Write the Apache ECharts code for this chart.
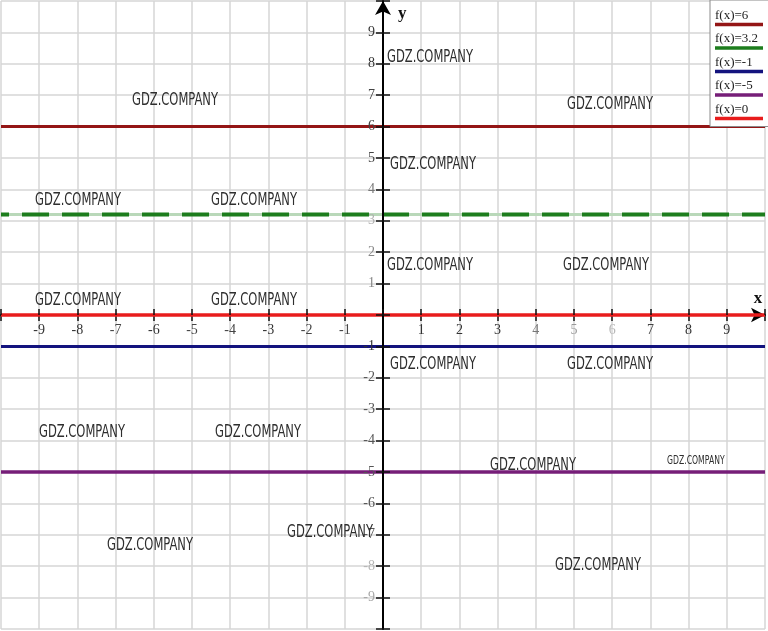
<!DOCTYPE html>
<html>
<head>
<meta charset="utf-8">
<script src="https://cdn.jsdelivr.net/npm/echarts@6/dist/echarts.min.js"></script>
<style>
html,body{margin:0;padding:0;background:#fff;}
#chart{width:768px;height:631px;}
</style>
</head>
<body>
<div id="chart"></div>
<script>
// ---- data ----
const xRange = [-10, 10];
const yRange = [-10, 10];
const seriesNames = ['f(x)=6', 'f(x)=3.2', 'f(x)=-1', 'f(x)=-5', 'f(x)=0'];
const seriesValues = [6, 3.2, -1, -5, 0];
const seriesColors = ['#941616', '#1d7d1d', '#13137e', '#761e78', '#e81c1c'];
const seriesDashed = [false, true, false, false, false];
const seriesWidths = [3, 4, 3, 3.5, 3.5];
const watermarkText = 'GDZ.COMPANY';
const watermarks = [
  [387, 57, 1], [132, 100, 1], [567, 104, 1], [390, 164, 1], [35, 200, 1],
  [211, 200, 1], [387, 265, 1], [563, 265, 1], [35, 300, 1], [211, 300, 1],
  [390, 364, 1], [567, 364, 1], [39, 432, 1], [215, 432, 1], [490, 465, 1],
  [667, 461, 0.67], [107, 545, 1], [287, 532, 1], [555, 565, 1]
];
const xLabelColors = {'-9': '#333', '-8': '#333', '-7': '#444', '-6': '#333', '-5': '#444', '-4': '#444', '-3': '#333', '-2': '#444', '-1': '#444',
  '1': '#333', '2': '#333', '3': '#333', '4': '#777', '5': '#999', '6': '#b8b8b8', '7': '#444', '8': '#333', '9': '#333'};
const yLabelColors = {'9': '#333', '8': '#333', '7': '#444', '6': '#444', '5': '#444', '4': '#777', '3': '#b0b0b0', '2': '#888', '1': '#888',
  '-1': '#333', '-2': '#555', '-3': '#555', '-4': '#555', '-5': '#555', '-6': '#555', '-7': '#555', '-8': '#b5b5b5', '-9': '#a8a8a8'};

const W = 768, H = 631;
const gridBox = {left: 1, right: 3, top: 1, bottom: 2};
const gw = W - gridBox.left - gridBox.right;
const gh = H - gridBox.top - gridBox.bottom;
const zeroFromLeft = gw * (0 - xRange[0]) / (xRange[1] - xRange[0]);
const zeroFromRight = gw - zeroFromLeft;
const zeroFromTop = gh * (yRange[1] - 0) / (yRange[1] - yRange[0]);
const zeroFromBottom = gh - zeroFromTop;

const chart = echarts.init(document.getElementById('chart'), null, {renderer: 'canvas'});

const labelFont = 'Liberation Serif, serif';
const wmFont = 'DejaVu Sans, sans-serif';
const wmSize = 18.5;
const wmTargetWidth = 86;

const mctx = document.createElement('canvas').getContext('2d');
mctx.font = wmSize + 'px ' + wmFont;
const wmScale = wmTargetWidth / mctx.measureText(watermarkText).width;

const series = [];
// pale underlay of the dashed line (visible in the dash gaps)
seriesNames.forEach((n, i) => {
  if (seriesDashed[i]) {
    series.push({
      name: n + ' ',
      type: 'line',
      data: [[xRange[0], seriesValues[i]], [xRange[1], seriesValues[i]]],
      symbol: 'none', silent: true, z: 1,
      lineStyle: {color: '#b9d8b9', width: 3}
    });
  }
});
seriesNames.forEach((n, i) => {
  series.push({
    name: n,
    type: 'line',
    data: [[xRange[0], seriesValues[i]], [xRange[1], seriesValues[i]]],
    symbol: 'none',
    silent: true,
    z: 2,
    lineStyle: {
      color: seriesColors[i],
      width: seriesWidths[i],
      type: seriesDashed[i] ? [27, 13] : 'solid',
      dashOffset: seriesDashed[i] ? 19 : 0,
      cap: 'butt'
    },
    itemStyle: {color: seriesColors[i]}
  });
});

const rich = {t: {fontFamily: labelFont, fontSize: 13, color: '#222', lineHeight: 12}};
seriesColors.forEach((c, i) => {
  rich['l' + i] = {width: 48, height: 3.5, backgroundColor: c, lineHeight: 6};
});

const graphics = watermarks.map(w => ({
  type: 'text',
  x: w[0],
  y: w[1],
  scaleX: wmScale * w[2],
  scaleY: w[2],
  z: 50,
  silent: true,
  style: {
    text: watermarkText,
    fontFamily: wmFont,
    fontSize: wmSize,
    fill: '#2e2e2e',
    align: 'left',
    verticalAlign: 'middle'
  }
}));

const hiddenLine = {color: '#000', width: 0, opacity: 0};
const tickStyle = {color: '#111', width: 1.5};
const hideEnds = function (v) { return (v === 0 || Math.abs(v) >= 10) ? '' : String(v); };
const gridLine = {show: true, lineStyle: {color: '#d6d6d6', width: 1.5}};

const option = {
  animation: false,
  backgroundColor: '#fff',
  grid: {left: gridBox.left, right: gridBox.right, top: gridBox.top, bottom: gridBox.bottom,
    containLabel: false, outerBoundsMode: 'none'},
  legend: {
    data: seriesNames,
    orient: 'vertical',
    left: 710,
    top: 0,
    icon: 'rect',
    itemWidth: 0,
    itemHeight: 0,
    itemGap: 2,
    padding: [9, 20, 2, 0],
    backgroundColor: '#fff',
    borderColor: '#8a8a8a',
    borderWidth: 1,
    selectedMode: false,
    z: 20,
    formatter: function (name) {
      const i = seriesNames.indexOf(name);
      return '{t|' + name + '}\n{l' + i + '| }';
    },
    textStyle: {rich: rich}
  },
  xAxis: [{
    type: 'value', min: xRange[0], max: xRange[1], interval: 1, position: 'bottom', z: 0,
    axisLine: {show: false}, axisTick: {show: false}, axisLabel: {show: false},
    splitLine: gridLine
  }, {
    type: 'value', min: xRange[0], max: xRange[1], interval: 1, position: 'bottom', z: 1,
    offset: -zeroFromBottom,
    axisLine: {show: true, onZero: false, symbol: ['none', 'arrow'], symbolSize: [11, 14],
      lineStyle: {color: '#000', width: 2}},
    axisTick: {show: true, inside: false, length: 6, lineStyle: tickStyle},
    axisLabel: {
      show: true, margin: 8, fontFamily: labelFont, fontSize: 14,
      color: function (v) { return xLabelColors[String(v)] || '#333'; },
      formatter: hideEnds
    },
    splitLine: {show: false},
    name: 'x', nameLocation: 'end', nameGap: -7,
    nameTextStyle: {fontFamily: labelFont, fontWeight: 'bold', fontSize: 17, color: '#111',
      align: 'center', verticalAlign: 'bottom', padding: [0, 0, 8, 0]}
  }, {
    type: 'value', min: xRange[0], max: xRange[1], interval: 1, position: 'top', z: 3,
    offset: -zeroFromTop,
    axisLine: {show: true, onZero: false, lineStyle: hiddenLine},
    axisTick: {show: true, inside: false, length: 6, lineStyle: tickStyle},
    axisLabel: {show: false},
    splitLine: {show: false}
  }],
  yAxis: [{
    type: 'value', min: yRange[0], max: yRange[1], interval: 1, position: 'left', z: 0,
    axisLine: {show: false}, axisTick: {show: false}, axisLabel: {show: false},
    splitLine: gridLine
  }, {
    type: 'value', min: yRange[0], max: yRange[1], interval: 1, position: 'left', z: 3,
    offset: -zeroFromLeft,
    axisLine: {show: true, onZero: false, lineStyle: hiddenLine},
    axisTick: {show: true, inside: false, length: 7, lineStyle: tickStyle},
    axisLabel: {
      show: true, margin: 8, fontFamily: labelFont, fontSize: 14,
      color: function (v) { return yLabelColors[String(v)] || '#333'; },
      formatter: hideEnds
    },
    splitLine: {show: false}
  }, {
    type: 'value', min: yRange[0], max: yRange[1], interval: 1, position: 'right', z: 3,
    offset: -zeroFromRight,
    axisLine: {show: true, onZero: false, symbol: ['none', 'arrow'], symbolSize: [12, 14],
      lineStyle: {color: '#000', width: 2}},
    axisTick: {show: true, inside: false, length: 7, lineStyle: tickStyle},
    axisLabel: {show: false},
    splitLine: {show: false},
    name: 'y', nameLocation: 'end', nameGap: -4,
    nameTextStyle: {fontFamily: labelFont, fontWeight: 'bold', fontSize: 17, color: '#111',
      align: 'left', verticalAlign: 'top', padding: [0, 0, 0, 15]}
  }],
  series: series,
  graphic: graphics
};
chart.setOption(option);
</script>
</body>
</html>
